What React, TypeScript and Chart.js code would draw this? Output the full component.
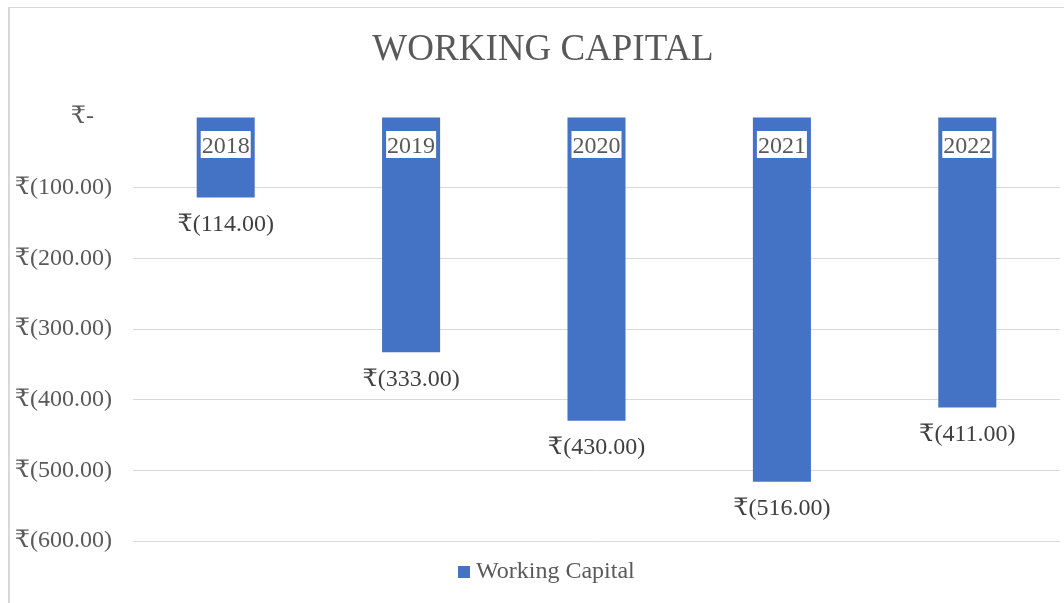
import React, { useEffect, useRef } from "react";
import { Chart, registerables } from "chart.js";

Chart.register(...registerables);

const categories = ["2018", "2019", "2020", "2021", "2022"];
const workingCapital = [-114, -333, -430, -516, -411];
const seriesLabel = "Working Capital";
const chartTitle = "WORKING CAPITAL";

const FONT = "'Liberation Serif', 'Times New Roman', 'DejaVu Serif', serif";
const TEXT = "#595959";
const BAR = "#4472C4";
const GRID = "#d9d9d9";

const fmt = (v: number) =>
  v === 0 ? "₹-   " : `₹(${Math.abs(v).toFixed(2)})`;

const decorPlugin = {
  id: "decor",
  beforeDraw(chart: any) {
    const ctx = chart.ctx;
    ctx.save();
    ctx.fillStyle = GRID;
    ctx.fillRect(8, 7, 2, chart.height - 7);
    ctx.fillRect(8, 7, chart.width - 8, 1);
    ctx.restore();
  },
  afterDraw(chart: any) {
    const ctx = chart.ctx;
    const meta = chart.getDatasetMeta(0);
    const yScale = chart.scales.y;
    ctx.save();
    // title
    ctx.fillStyle = TEXT;
    ctx.font = `37px ${FONT}`;
    ctx.textAlign = "center";
    ctx.textBaseline = "middle";
    ctx.fillText(chartTitle, 543, 50);

    // category labels in white boxes at zero line
    ctx.font = `24px ${FONT}`;
    const zeroY = yScale.getPixelForValue(0);
    meta.data.forEach((bar: any, i: number) => {
      const txt = categories[i];
      const w = ctx.measureText(txt).width + 2;
      const cy = zeroY + 28;
      ctx.fillStyle = "#ffffff";
      ctx.fillRect(bar.x - w / 2, cy - 14, w, 27);
      ctx.fillStyle = TEXT;
      ctx.fillText(txt, bar.x, cy + 1.5);
    });

    // data labels
    ctx.fillStyle = "#404040";
    meta.data.forEach((bar: any, i: number) => {
      ctx.fillText(fmt(workingCapital[i]), bar.x, bar.y + 27);
    });

    // legend
    ctx.fillStyle = BAR;
    ctx.fillRect(458, 566, 12, 12);
    ctx.fillStyle = TEXT;
    ctx.textAlign = "left";
    ctx.fillText(seriesLabel, 476, 572);
    ctx.restore();
  },
};

export default function App() {
  const ref = useRef<HTMLCanvasElement | null>(null);
  useEffect(() => {
    if (!ref.current) return;
    const chart = new Chart(ref.current, {
      type: "bar",
      data: {
        labels: categories,
        datasets: [
          {
            label: seriesLabel,
            data: workingCapital,
            backgroundColor: BAR,
            categoryPercentage: 1,
            barPercentage: 0.313,
          },
        ],
      },
      options: {
        animation: false,
        responsive: false,
        maintainAspectRatio: false,
        layout: { padding: { top: 117, bottom: 62, left: 0, right: 4 } },
        plugins: {
          legend: { display: false },
          title: { display: false },
          tooltip: { enabled: false },
        },
        scales: {
          x: { display: false },
          y: {
            min: -600,
            max: 0,
            afterFit(scale: any) {
              scale.width = 133;
            },
            border: { display: false },
            grid: {
              drawTicks: false,
              color: (c: any) => (c.tick && c.tick.value === 0 ? "rgba(0,0,0,0)" : GRID),
              lineWidth: 1,
            },
            ticks: {
              stepSize: 100,
              padding: 21,
              color: TEXT,
              font: { family: FONT, size: 24 },
              callback: (v: any) => fmt(Number(v)),
            },
          },
        },
      },
      plugins: [decorPlugin],
    });
    return () => chart.destroy();
  }, []);
  return (
    <div style={{ position: "fixed", left: 0, top: 0, width: 1064, height: 603, background: "#fff" }}>
      <canvas ref={ref} width={1064} height={603} style={{ width: 1064, height: 603 }} />
    </div>
  );
}
